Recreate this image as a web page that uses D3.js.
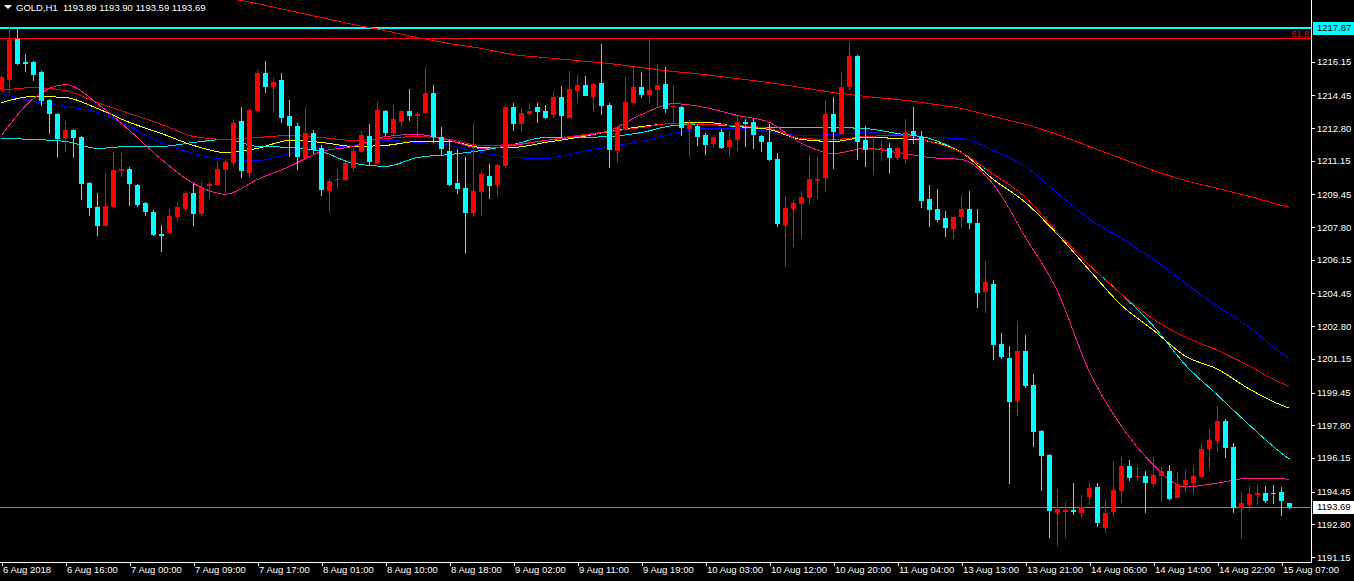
<!DOCTYPE html>
<html><head><meta charset="utf-8">
<script src="https://cdn.jsdelivr.net/npm/d3@7"></script>
<style>html,body{margin:0;padding:0;background:#000;overflow:hidden}</style>
</head><body><svg id="c" width="1354" height="581"></svg>
<script>
const open=[1214.74,1215.24,1217.31,1216.15,1216.15,1215.60,1214.19,1213.53,1212.32,1212.72,
1212.32,1210.00,1208.79,1207.83,1208.79,1210.61,1210.71,1209.90,1208.99,1208.54,
1207.43,1207.48,1208.29,1208.69,1209.50,1208.44,1209.85,1209.90,1210.66,1211.01,
1213.13,1210.56,1213.63,1215.55,1214.89,1215.24,1213.38,1212.92,1211.31,1212.57,
1211.77,1209.60,1210.15,1210.15,1210.81,1211.61,1212.37,1211.06,1213.68,1212.52,
1213.13,1213.68,1213.38,1213.53,1214.54,1212.32,1211.66,1210.00,1209.75,1208.49,
1209.55,1210.40,1209.90,1210.91,1213.88,1213.03,1213.53,1213.88,1213.68,1213.43,
1214.34,1213.33,1214.69,1214.99,1214.39,1215.09,1213.98,1211.66,1212.77,1214.08,
1214.89,1214.49,1214.74,1215.04,1213.88,1213.88,1212.72,1212.92,1212.47,1211.97,
1212.62,1211.82,1212.17,1213.08,1213.08,1212.42,1212.07,1211.21,1207.88,1208.69,
1208.94,1209.25,1210.15,1210.25,1213.48,1212.52,1214.89,1216.45,1212.17,1211.72,
1211.72,1211.77,1211.26,1211.26,1212.67,1212.32,1209.20,1208.69,1208.24,1207.68,
1208.29,1208.69,1207.99,1204.51,1204.91,1201.89,1201.18,1199.01,1201.53,1199.82,
1197.50,1196.29,1193.37,1193.42,1193.52,1193.37,1194.17,1194.68,1192.61,1193.42,
1194.48,1195.74,1195.18,1195.23,1194.83,1195.23,1195.49,1194.12,1194.78,1194.88,
1195.18,1196.59,1197.00,1198.01,1196.70,1193.62,1193.77,1194.28,1194.38,1194.38,
1194.43,1193.89];
const high=[1215.49,1217.91,1217.81,1216.55,1216.20,1215.65,1214.24,1213.58,1213.13,1212.77,
1212.37,1210.05,1209.50,1210.51,1211.61,1211.56,1210.81,1209.95,1209.04,1208.64,
1207.88,1208.69,1209.04,1209.60,1210.00,1210.05,1210.05,1211.11,1211.16,1213.18,
1213.88,1213.78,1215.75,1216.20,1215.34,1215.55,1214.19,1213.03,1213.88,1212.72,
1211.92,1210.25,1210.71,1211.06,1211.77,1212.67,1212.98,1214.13,1213.73,1213.98,
1213.73,1214.79,1213.63,1215.90,1214.99,1212.87,1212.17,1211.72,1211.36,1213.03,
1210.61,1210.96,1210.96,1213.98,1214.08,1213.83,1214.08,1214.08,1213.98,1214.69,
1214.94,1215.70,1215.49,1215.44,1215.09,1217.06,1214.08,1212.92,1215.39,1215.95,
1215.60,1217.36,1216.05,1215.90,1214.99,1213.93,1213.18,1212.98,1212.57,1212.47,
1212.77,1212.67,1213.38,1213.23,1213.23,1212.47,1212.98,1211.56,1209.35,1209.14,
1209.60,1211.46,1211.31,1214.19,1214.34,1215.60,1217.16,1216.50,1212.92,1212.42,
1212.17,1212.02,1211.87,1213.23,1213.88,1212.67,1209.90,1209.70,1208.59,1208.29,
1209.40,1209.60,1208.69,1206.07,1205.11,1202.44,1201.79,1203.00,1202.34,1200.37,
1197.55,1196.34,1194.58,1193.92,1194.88,1194.28,1194.88,1194.88,1194.07,1195.99,
1196.19,1196.04,1195.74,1195.49,1196.19,1195.69,1195.79,1195.43,1195.54,1195.74,
1196.90,1197.61,1198.76,1198.11,1196.90,1194.43,1194.73,1194.78,1194.73,1194.78,
1194.68,1193.90];
const low=[1214.59,1214.54,1216.00,1215.60,1215.19,1213.93,1212.52,1211.26,1211.61,1211.26,
1209.14,1208.34,1207.33,1207.78,1208.74,1210.35,1208.84,1208.79,1208.34,1207.33,
1206.52,1207.43,1208.09,1208.64,1207.83,1208.34,1209.20,1209.85,1209.50,1210.81,
1210.30,1210.30,1213.58,1214.54,1213.63,1213.03,1211.31,1210.66,1211.26,1211.51,
1209.35,1208.49,1209.70,1210.10,1210.61,1211.56,1210.86,1210.96,1212.42,1212.47,
1212.87,1213.13,1212.37,1213.48,1212.02,1211.46,1209.85,1209.45,1206.42,1208.29,
1208.34,1209.20,1209.30,1210.76,1212.67,1212.62,1213.38,1213.03,1213.23,1213.28,
1212.27,1213.23,1214.13,1214.39,1213.63,1213.43,1210.76,1211.01,1212.72,1213.98,
1214.29,1214.08,1213.83,1213.58,1213.08,1212.37,1211.31,1211.87,1211.46,1211.77,
1211.72,1211.36,1211.66,1211.82,1211.72,1211.61,1211.11,1207.78,1205.77,1206.78,
1207.23,1208.89,1209.20,1209.60,1210.71,1212.47,1214.69,1211.16,1210.81,1210.46,
1211.11,1210.46,1211.16,1210.96,1211.97,1208.74,1207.78,1208.04,1207.28,1207.18,
1207.73,1207.68,1203.70,1203.45,1201.08,1201.13,1194.83,1198.26,1199.67,1196.70,
1194.48,1192.11,1191.70,1192.11,1193.27,1193.12,1193.77,1192.66,1192.36,1193.17,
1193.87,1194.98,1194.98,1193.37,1194.68,1193.92,1194.02,1194.07,1194.38,1194.33,
1195.13,1195.54,1196.44,1196.14,1193.37,1192.06,1193.52,1193.77,1193.87,1193.82,
1193.22,1193.59];
const close=[1215.39,1217.26,1216.05,1216.05,1215.49,1214.13,1213.48,1212.27,1212.72,1212.32,
1209.95,1208.74,1207.83,1208.84,1210.66,1210.71,1209.95,1208.89,1208.54,1207.38,
1207.33,1208.34,1208.79,1209.50,1208.44,1209.80,1209.95,1210.71,1211.06,1213.03,
1210.61,1213.73,1215.55,1214.84,1215.14,1213.33,1212.87,1211.36,1212.57,1211.72,
1209.65,1210.10,1210.20,1211.01,1211.66,1212.47,1211.06,1213.73,1212.57,1213.23,
1213.68,1213.43,1213.48,1214.54,1212.32,1211.72,1209.95,1209.70,1208.49,1209.60,
1210.46,1209.90,1210.91,1213.88,1213.03,1213.58,1213.68,1213.63,1213.33,1214.34,
1213.38,1214.79,1214.99,1214.44,1215.04,1213.93,1211.72,1212.87,1214.13,1214.89,
1214.49,1214.74,1214.99,1213.78,1213.93,1212.82,1212.98,1212.37,1211.97,1212.32,
1211.82,1212.17,1213.08,1212.98,1212.42,1212.12,1211.16,1207.94,1208.74,1208.99,
1209.30,1210.20,1210.25,1213.48,1212.57,1214.89,1216.45,1212.12,1211.66,1211.77,
1211.77,1211.26,1211.77,1212.62,1212.42,1209.09,1208.64,1208.14,1207.73,1208.29,
1208.69,1207.99,1204.46,1205.01,1201.84,1201.23,1198.96,1201.53,1199.77,1197.45,
1196.24,1193.47,1193.57,1193.52,1193.42,1193.67,1194.63,1192.86,1193.37,1194.53,
1195.74,1195.13,1195.23,1194.88,1195.28,1195.49,1194.07,1194.83,1195.03,1195.23,
1196.59,1197.05,1198.01,1196.64,1193.62,1193.87,1194.33,1194.38,1193.97,1194.33,
1193.97,1193.69];

const timeLabelBars=[0,8,16,24,32,40,48,56,64,72,80,88,96,104,112,120,128,136,144,152,160];
const timeLabels=["6 Aug 2018","6 Aug 16:00","7 Aug 00:00","7 Aug 09:00","7 Aug 17:00","8 Aug 01:00","8 Aug 10:00","8 Aug 18:00","9 Aug 02:00","9 Aug 11:00","9 Aug 19:00","10 Aug 03:00","10 Aug 12:00","10 Aug 20:00","11 Aug 04:00","13 Aug 13:00","13 Aug 21:00","14 Aug 06:00","14 Aug 14:00","14 Aug 22:00","15 Aug 07:00"];
const priceTicks=[1216.15,1214.45,1212.80,1211.15,1209.45,1207.80,1206.15,1204.45,1202.80,1201.15,1199.45,1197.80,1196.15,1194.45,1192.80,1191.15];

const maBars=[0,4,8,12,16,20,24,28,32,36,40,44,48,52,56,60,64,68,72,76,80,84,88,92,96,100,104,108,112,116,120,124,128,132,136,140,144,148,152,156,160,161];
const maMagenta=[1212.42,1214.29,1214.99,1214.03,1212.67,1211.21,1210.00,1209.45,1210.20,1210.86,1211.61,1211.87,1212.37,1212.47,1212.17,1211.77,1211.92,1212.17,1212.37,1212.67,1213.48,1214.03,1213.83,1213.43,1213.08,1212.02,1211.51,1211.77,1211.56,1211.31,1211.21,1209.95,1207.28,1204.56,1200.48,1197.75,1195.79,1194.68,1194.88,1195.13,1195.13,1195.03];
const maRed=[1214.69,1214.84,1214.69,1214.08,1213.53,1212.98,1212.37,1212.22,1212.32,1212.42,1212.32,1212.17,1212.27,1212.37,1212.22,1211.92,1211.97,1212.17,1212.42,1212.62,1212.82,1213.03,1212.98,1212.92,1212.77,1212.27,1212.22,1212.37,1212.42,1212.12,1211.56,1210.46,1209.30,1207.53,1205.87,1204.41,1203.15,1202.24,1201.58,1200.78,1199.92,1199.77];
const maYellow=[1214.08,1214.39,1214.34,1213.78,1213.08,1212.52,1211.92,1211.56,1211.77,1212.17,1212.07,1211.87,1211.92,1212.12,1212.12,1211.82,1211.82,1212.07,1212.32,1212.62,1212.87,1213.03,1213.08,1212.87,1212.72,1212.22,1212.12,1212.32,1212.27,1212.12,1211.56,1210.20,1209.04,1207.43,1205.62,1203.85,1202.59,1201.28,1200.63,1199.62,1198.81,1198.66];
const maBlue=[1214.54,1214.13,1213.88,1213.58,1212.87,1212.07,1211.51,1211.21,1211.16,1211.51,1211.77,1211.92,1212.17,1212.07,1211.92,1211.56,1211.31,1211.26,1211.56,1211.87,1212.12,1212.52,1212.77,1212.77,1212.62,1212.42,1212.47,1212.57,1212.47,1212.32,1212.27,1211.66,1210.86,1209.50,1208.19,1207.23,1206.17,1204.96,1203.80,1202.74,1201.43,1201.18];
const maAqua=[1212.27,1212.22,1212.12,1211.77,1211.87,1211.87,1212.07,1212.22,1211.87,1211.82,1211.61,1211.01,1210.86,1211.31,1211.46,1211.66,1211.97,1212.32,1212.32,1212.37,1212.57,1212.92,1212.98,1212.87,1212.82,1212.82,1212.82,1212.77,1212.52,1212.27,1211.56,1210.46,1209.30,1207.53,1205.87,1204.41,1202.80,1200.83,1199.32,1197.80,1196.39,1196.09];
const maLong=[null,null,null,null,null,null,null,1219.38,1219.07,1218.72,1218.37,1218.02,1217.71,1217.36,1217.06,1216.81,1216.50,1216.35,1216.20,1216.05,1215.85,1215.65,1215.49,1215.29,1215.09,1214.84,1214.59,1214.39,1214.24,1214.03,1213.78,1213.38,1212.98,1212.47,1211.87,1211.26,1210.66,1210.15,1209.75,1209.35,1208.89,1208.79];

const levelHigh=1217.87, fibLevel=1217.36, bidPrice=1193.69, fibText="61.8";
const titleText="GOLD,H1  1193.89 1193.90 1193.59 1193.69";

const W=1354,H=581, plotR=1311, plotB=562;
const FONT="'Liberation Sans', Arial, sans-serif";
const svg=d3.select("#c");
svg.append("rect").attr("width",W).attr("height",H).attr("fill","#000");

const x=d3.scaleLinear().domain([0,161]).range([1.5,1289.5]);
const y=d3.scaleLinear().domain([1191.15,1217.87]).range([557,27.5]);

svg.append("defs").append("clipPath").attr("id","clip").append("rect").attr("x",0).attr("y",0).attr("width",plotR).attr("height",plotB);
const plot=svg.append("g").attr("clip-path","url(#clip)");

// horizontal levels
plot.append("line").attr("x1",0).attr("x2",plotR).attr("y1",Math.round(y(levelHigh))).attr("y2",Math.round(y(levelHigh))).attr("stroke","#00FFFF").attr("stroke-width",2).attr("shape-rendering","crispEdges");
plot.append("line").attr("x1",0).attr("x2",plotR).attr("y1",Math.round(y(fibLevel))+0.5).attr("y2",Math.round(y(fibLevel))+0.5).attr("stroke","#FF0000").attr("stroke-width",1).attr("shape-rendering","crispEdges");
plot.append("line").attr("x1",0).attr("x2",plotR).attr("y1",Math.round(y(bidPrice))+0.5).attr("y2",Math.round(y(bidPrice))+0.5).attr("stroke","#778899").attr("stroke-width",1).attr("shape-rendering","crispEdges");

// moving averages
function drawMA(vals,color){
  const pts=maBars.map((b,i)=>[b,vals[i]]);
  const line=d3.line().defined(d=>d[1]!=null).x(d=>x(d[0])).y(d=>y(d[1])).curve(d3.curveMonotoneX);
  plot.append("path").datum(pts).attr("d",line).attr("fill","none").attr("stroke",color).attr("stroke-width",1).attr("shape-rendering","crispEdges");
}
drawMA(maLong,"#FF0000");
drawMA(maBlue,"#0000FF");
drawMA(maAqua,"#00E8E8");
drawMA(maYellow,"#FFFF00");
drawMA(maRed,"#FF0000");
drawMA(maMagenta,"#FF1493");

// candles
const bars=open.map((o,i)=>({i,o,h:high[i],l:low[i],c:close[i]}));
const cg=plot.append("g").attr("shape-rendering","crispEdges");
const col=d=>d.c>=d.o?"#FF0000":"#00FFFF";
cg.selectAll("line.w").data(bars).join("line").attr("class","w")
  .attr("x1",d=>Math.floor(x(d.i))+0.5).attr("x2",d=>Math.floor(x(d.i))+0.5)
  .attr("y1",d=>y(d.h)).attr("y2",d=>y(d.l)).attr("stroke",col);
cg.selectAll("rect.b").data(bars).join("rect").attr("class","b")
  .attr("x",d=>Math.floor(x(d.i))-2).attr("width",5)
  .attr("y",d=>Math.round(y(Math.max(d.o,d.c))))
  .attr("height",d=>Math.max(1,Math.round(Math.abs(y(d.o)-y(d.c)))))
  .attr("fill",col);

// axes frame
svg.append("line").attr("x1",plotR+0.5).attr("x2",plotR+0.5).attr("y1",0).attr("y2",plotB+1).attr("stroke","#fff").attr("shape-rendering","crispEdges");
svg.append("line").attr("x1",0).attr("x2",plotR+1).attr("y1",plotB+0.5).attr("y2",plotB+0.5).attr("stroke","#fff").attr("shape-rendering","crispEdges");

const yAxis=svg.append("g").attr("transform",`translate(${plotR},0)`)
  .call(d3.axisRight(y).tickValues(priceTicks).tickSize(4).tickPadding(2).tickFormat(d3.format(".2f")));
yAxis.select(".domain").remove();
yAxis.selectAll("line").attr("stroke","#fff").attr("shape-rendering","crispEdges");
yAxis.selectAll("text").attr("fill","#fff").style("font-family",FONT).style("font-size","9.5px");

const xAxis=svg.append("g").attr("transform",`translate(0,${plotB})`)
  .call(d3.axisBottom(x).tickValues(timeLabelBars).tickSize(4).tickFormat((d,i)=>timeLabels[i]));
xAxis.select(".domain").remove();
xAxis.selectAll("line").attr("stroke","#fff").attr("shape-rendering","crispEdges");
xAxis.selectAll("text").attr("fill","#fff").attr("text-anchor","start").attr("x",1).attr("y",4).attr("dy","0.71em")
  .style("font-family",FONT).style("font-size","9.5px");

// price boxes
function priceBox(p,bg,fg){
  const yy=Math.round(y(p));
  svg.append("rect").attr("x",plotR+2).attr("y",yy-6).attr("width",W-plotR-2).attr("height",13).attr("fill",bg);
  svg.append("text").attr("x",plotR+6).attr("y",yy).attr("dy","0.35em").attr("fill",fg)
    .style("font-family",FONT).style("font-size","9.5px").text(d3.format(".2f")(p));
}
priceBox(levelHigh,"#00FFFF","#000");
priceBox(bidPrice,"#FFFFFF","#000");

// fib label
svg.append("text").attr("x",plotR-2).attr("y",Math.round(y(fibLevel))-1).attr("text-anchor","end").attr("fill","#FF0000")
  .style("font-family",FONT).style("font-size","9px").text(fibText);

// title
svg.append("path").attr("d","M4,5L12,5L8,9Z").attr("fill","#fff");
svg.append("text").attr("x",16).attr("y",11).attr("fill","#fff").style("white-space","pre")
  .style("font-family",FONT).style("font-size","9.5px").text(titleText);
</script></body></html>
